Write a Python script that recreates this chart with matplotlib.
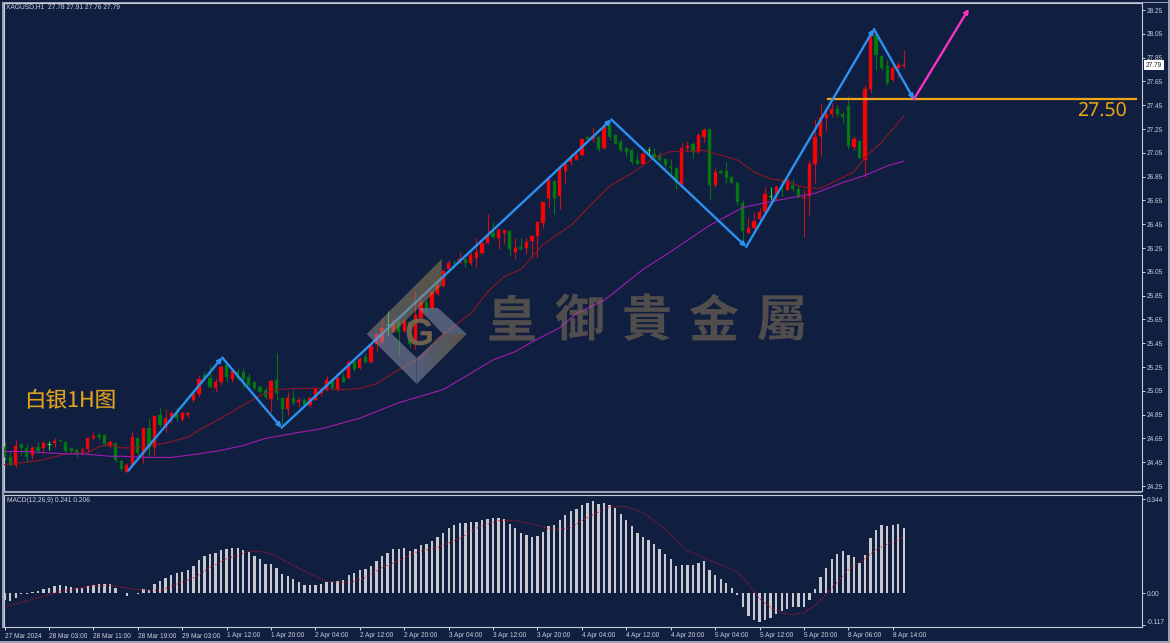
import numpy as np
import matplotlib
matplotlib.use('Agg')
import matplotlib.pyplot as plt
from matplotlib.colors import LinearSegmentedColormap
from matplotlib.patches import Polygon, Rectangle

plt.rcParams['font.family'] = ['Liberation Sans', 'DejaVu Sans']
plt.rcParams['text.hinting'] = 'none'

W, H = 1170, 643
BG = '#101f40'
TXT = '#d2d6de'

opens = [
    24.58, 24.49, 24.43, 24.60, 24.57, 24.51, 24.58, 24.57, 24.60, 24.61,
    24.64, 24.62, 24.57, 24.55, 24.54, 24.56, 24.65, 24.68, 24.68, 24.59,
    24.61, 24.46, 24.37, 24.43, 24.65, 24.53, 24.74, 24.58, 24.85, 24.75,
    24.83, 24.86, 24.81, 24.85, 24.97, 25.02, 25.18, 25.16, 25.07, 25.12,
    25.27, 25.15, 25.21, 25.21, 25.17, 25.12, 25.08, 25.06, 24.98, 25.14,
    24.99, 24.90, 24.99, 24.96, 24.97, 24.93, 24.97, 25.03, 25.06, 25.13,
    25.06, 25.17, 25.16, 25.29, 25.24, 25.33, 25.29, 25.44, 25.46, 25.61,
    25.54, 25.63, 25.55, 25.63, 25.44, 25.66, 25.80, 25.75, 25.86, 25.93,
    26.07, 26.13, 26.12, 26.16, 26.12, 26.17, 26.21, 26.29, 26.38, 26.33,
    26.38, 26.39, 26.22, 26.26, 26.25, 26.31, 26.35, 26.46, 26.67, 26.81,
    26.69, 26.90, 26.97, 26.99, 27.03, 27.18, 27.17, 27.18, 27.09, 27.28,
    27.20, 27.14, 27.09, 27.07, 26.99, 26.96, 27.07, 27.04, 27.03, 27.00,
    26.94, 26.92, 26.79, 27.09, 27.12, 27.06, 27.18, 27.25, 26.78, 26.90,
    26.90, 26.85, 26.80, 26.63, 26.38, 26.42, 26.49, 26.55, 26.69, 26.70,
    26.75, 26.74, 26.78, 26.75, 26.67, 26.69, 26.96, 27.19, 27.34, 27.38,
    27.42, 27.38, 27.44, 27.10, 27.15, 26.99, 27.59, 28.04, 27.86, 27.78,
    27.66, 27.76, 27.78,
]
highs = [
    24.62, 24.54, 24.64, 24.60, 24.60, 24.59, 24.62, 24.63, 24.63, 24.65,
    24.64, 24.63, 24.58, 24.57, 24.58, 24.66, 24.70, 24.70, 24.69, 24.63,
    24.62, 24.47, 24.44, 24.71, 24.66, 24.74, 24.82, 24.84, 24.91, 24.90,
    24.88, 24.91, 24.87, 24.87, 25.03, 25.18, 25.22, 25.27, 25.16, 25.27,
    25.28, 25.24, 25.24, 25.24, 25.20, 25.12, 25.10, 25.08, 25.14, 25.37,
    24.99, 25.04, 25.06, 25.00, 24.99, 25.00, 25.07, 25.06, 25.18, 25.15,
    25.17, 25.20, 25.31, 25.30, 25.33, 25.37, 25.44, 25.54, 25.66, 25.72,
    25.65, 25.65, 25.65, 25.64, 25.89, 25.81, 25.81, 25.89, 25.95, 26.07,
    26.15, 26.14, 26.22, 26.17, 26.22, 26.33, 26.30, 26.54, 26.47, 26.42,
    26.40, 26.40, 26.33, 26.33, 26.33, 26.36, 26.47, 26.64, 26.84, 26.81,
    26.93, 26.97, 27.05, 27.05, 27.17, 27.19, 27.27, 27.19, 27.30, 27.30,
    27.21, 27.17, 27.10, 27.09, 27.04, 27.09, 27.10, 27.09, 27.06, 27.01,
    27.00, 26.93, 27.13, 27.15, 27.14, 27.22, 27.26, 27.25, 26.92, 26.91,
    26.97, 26.86, 26.81, 26.65, 26.50, 26.55, 26.59, 26.76, 26.76, 26.78,
    26.82, 26.84, 26.83, 26.78, 26.74, 26.99, 27.33, 27.46, 27.43, 27.47,
    27.45, 27.39, 27.53, 27.19, 27.15, 27.62, 28.08, 28.07, 27.87, 27.83,
    27.82, 27.81, 27.91,
]
lows = [
    24.47, 24.42, 24.41, 24.51, 24.45, 24.48, 24.53, 24.53, 24.55, 24.58,
    24.62, 24.53, 24.53, 24.49, 24.51, 24.53, 24.64, 24.64, 24.59, 24.57,
    24.45, 24.38, 24.37, 24.42, 24.47, 24.44, 24.49, 24.51, 24.75, 24.70,
    24.78, 24.80, 24.80, 24.83, 24.96, 25.00, 25.14, 25.07, 25.04, 25.10,
    25.12, 25.12, 25.14, 25.07, 25.08, 25.06, 25.03, 24.98, 24.87, 24.97,
    24.76, 24.85, 24.93, 24.91, 24.92, 24.91, 24.97, 25.01, 25.05, 25.06,
    25.05, 25.12, 25.15, 25.22, 25.23, 25.28, 25.28, 25.38, 25.44, 25.52,
    25.54, 25.35, 25.54, 25.42, 25.40, 25.63, 25.71, 25.74, 25.85, 25.92,
    26.05, 26.10, 26.12, 26.09, 26.11, 26.09, 26.20, 26.28, 26.33, 26.24,
    26.28, 26.18, 26.16, 26.23, 26.20, 26.17, 26.17, 26.42, 26.59, 26.54,
    26.58, 26.80, 26.95, 26.99, 27.02, 27.16, 27.14, 27.06, 27.08, 27.16,
    27.12, 27.06, 27.02, 26.96, 26.96, 26.95, 27.03, 27.01, 26.97, 26.91,
    26.85, 26.75, 26.79, 27.06, 27.01, 27.05, 27.14, 26.66, 26.76, 26.87,
    26.80, 26.80, 26.61, 26.29, 26.38, 26.41, 26.47, 26.54, 26.65, 26.65,
    26.69, 26.74, 26.73, 26.67, 26.34, 26.53, 26.80, 27.02, 27.23, 27.35,
    27.35, 27.30, 27.08, 27.07, 27.01, 26.85, 27.55, 27.75, 27.75, 27.62,
    27.65, 27.69, 27.76,
]
closes = [
    24.49, 24.43, 24.59, 24.57, 24.49, 24.57, 24.54, 24.61, 24.60, 24.63,
    24.63, 24.54, 24.54, 24.53, 24.55, 24.65, 24.67, 24.66, 24.60, 24.62,
    24.47, 24.39, 24.43, 24.66, 24.53, 24.74, 24.58, 24.84, 24.76, 24.82,
    24.86, 24.82, 24.86, 24.86, 25.02, 25.15, 25.16, 25.08, 25.12, 25.25,
    25.17, 25.22, 25.16, 25.15, 25.10, 25.07, 25.04, 25.00, 25.13, 25.03,
    24.90, 24.99, 24.95, 24.97, 24.93, 24.99, 25.07, 25.05, 25.14, 25.07,
    25.16, 25.12, 25.29, 25.23, 25.32, 25.29, 25.43, 25.53, 25.58, 25.61,
    25.64, 25.54, 25.64, 25.44, 25.69, 25.80, 25.75, 25.88, 25.94, 26.06,
    26.12, 26.12, 26.16, 26.12, 26.19, 26.22, 26.29, 26.36, 26.34, 26.40,
    26.40, 26.24, 26.25, 26.24, 26.30, 26.35, 26.47, 26.64, 26.82, 26.67,
    26.92, 26.96, 27.01, 27.03, 27.17, 27.17, 27.19, 27.08, 27.27, 27.18,
    27.12, 27.07, 27.06, 26.97, 26.96, 27.04, 27.07, 27.01, 26.99, 26.95,
    26.92, 26.80, 27.09, 27.11, 27.06, 27.20, 27.24, 26.78, 26.89, 26.88,
    26.84, 26.80, 26.64, 26.39, 26.42, 26.48, 26.55, 26.70, 26.69, 26.76,
    26.74, 26.82, 26.75, 26.68, 26.68, 26.96, 27.18, 27.35, 27.38, 27.42,
    27.38, 27.35, 27.11, 27.17, 27.01, 27.59, 28.04, 27.87, 27.76, 27.64,
    27.76, 27.79, 27.79,
]

ma_fast_bars = [0, 4, 7, 11, 15, 17, 19, 21, 24, 25, 29, 33, 35, 39, 43, 46, 49, 53, 57, 61, 64,
                67, 70, 75, 78, 84, 87, 90, 93, 97, 102, 106, 109, 113, 117, 120, 126, 129,
                132, 135, 138, 140, 144, 147, 150, 153, 155, 158, 162]
ma_fast = [24.43, 24.45, 24.47, 24.52, 24.53, 24.58, 24.60, 24.57, 24.57, 24.58, 24.61, 24.66, 24.72,
           24.82, 24.93, 25.01, 25.06, 25.07, 25.07, 25.06, 25.07, 25.11, 25.20, 25.33, 25.49, 25.70,
           25.88, 26.01, 26.07, 26.28, 26.44, 26.63, 26.77, 26.88, 27.01, 27.06, 27.07, 27.03,
           26.99, 26.89, 26.83, 26.82, 26.76, 26.75, 26.82, 26.89, 27.01, 27.14, 27.36]

ma_slow_bars = [0, 4, 7, 11, 14, 19, 21, 26, 30, 35, 39, 43, 47, 53, 57, 64, 71, 79, 83, 88, 92, 95,
                100, 103, 108, 115, 120, 127, 133, 138, 146, 151, 155, 159, 162]
ma_slow = [24.54, 24.54, 24.53, 24.52, 24.52, 24.50, 24.50, 24.49, 24.49, 24.52, 24.55, 24.59, 24.65,
           24.70, 24.73, 24.82, 24.95, 25.06, 25.17, 25.31, 25.38, 25.46, 25.58, 25.70, 25.81, 26.07,
           26.22, 26.44, 26.59, 26.64, 26.71, 26.80, 26.86, 26.94, 26.98]

macd_hist = [
    -0.026, -0.028, -0.016, -0.003, -0.002, 0.005, 0.007, 0.015, 0.021, 0.026,
    0.030, 0.028, 0.024, 0.020, 0.018, 0.026, 0.030, 0.035, 0.033, 0.033,
    0.020, 0.002, -0.010, 0.002, -0.001, 0.015, 0.013, 0.033, 0.044, 0.057,
    0.068, 0.074, 0.079, 0.084, 0.099, 0.123, 0.135, 0.143, 0.149, 0.160,
    0.163, 0.167, 0.167, 0.160, 0.150, 0.137, 0.127, 0.106, 0.106, 0.094,
    0.072, 0.063, 0.051, 0.043, 0.032, 0.029, 0.030, 0.034, 0.041, 0.041,
    0.046, 0.050, 0.066, 0.073, 0.084, 0.088, 0.100, 0.120, 0.137, 0.149,
    0.162, 0.163, 0.166, 0.154, 0.162, 0.176, 0.179, 0.191, 0.206, 0.222,
    0.239, 0.250, 0.257, 0.259, 0.260, 0.262, 0.267, 0.272, 0.276, 0.276,
    0.272, 0.255, 0.240, 0.221, 0.212, 0.207, 0.210, 0.223, 0.248, 0.251,
    0.270, 0.288, 0.301, 0.310, 0.323, 0.330, 0.337, 0.326, 0.330, 0.323,
    0.311, 0.291, 0.270, 0.245, 0.222, 0.206, 0.194, 0.179, 0.162, 0.143,
    0.126, 0.100, 0.102, 0.104, 0.102, 0.110, 0.118, 0.085, 0.067, 0.052,
    0.037, 0.018, -0.005, -0.049, -0.082, -0.098, -0.106, -0.096, -0.090, -0.077,
    -0.065, -0.056, -0.049, -0.049, -0.049, -0.026, 0.015, 0.059, 0.094, 0.124,
    0.145, 0.155, 0.141, 0.132, 0.111, 0.141, 0.204, 0.233, 0.249, 0.246,
    0.249, 0.255, 0.241,
]
signal_bars = [0, 3, 6, 10, 13, 16, 19, 21, 24, 28, 31, 34, 37, 40, 44, 47, 49, 52, 55, 58, 62, 65,
               68, 71, 74, 78, 82, 85, 89, 92, 96, 99, 102, 105, 109, 112, 115, 119, 123, 127,
               132, 134, 136, 138, 140, 142, 144, 146, 148, 150, 152, 155, 157, 160, 162]
signal = [-0.049, -0.034, -0.016, 0.006, 0.017, 0.027, 0.029, 0.023, 0.013, 0.010, 0.033, 0.057,
          0.094, 0.127, 0.154, 0.151, 0.135, 0.102, 0.072, 0.043, 0.039, 0.057, 0.094, 0.120, 0.150,
          0.168, 0.201, 0.239, 0.266, 0.268, 0.248, 0.232, 0.241, 0.278, 0.318, 0.317, 0.296,
          0.235, 0.156, 0.122, 0.079, 0.034, -0.020, -0.052, -0.072, -0.078, -0.071, -0.044,
          -0.005, 0.041, 0.087, 0.127, 0.160, 0.190, 0.206]

zigzag_bars = [22.3, 39.2, 49.9, 109.3, 133.6, 156.6, 163.8]
zigzag_prices = [24.38, 25.33, 24.74, 27.33, 26.26, 28.09, 27.50]
target_bar, target_price = 173.7, 28.26
support_level = 27.50
support_start, support_end = 148.3, 203.9

price_ticks = [28.25, 28.05, 27.85, 27.65, 27.45, 27.25, 27.05, 26.85, 26.65, 26.45, 26.25,
               26.05, 25.85, 25.65, 25.45, 25.25, 25.05, 24.85, 24.65, 24.45, 24.25]
time_labels = ['27 Mar 2024', '28 Mar 03:00', '28 Mar 11:00', '28 Mar 19:00', '29 Mar 03:00',
               '1 Apr 12:00', '1 Apr 20:00', '2 Apr 04:00', '2 Apr 12:00', '2 Apr 20:00',
               '3 Apr 04:00', '3 Apr 12:00', '3 Apr 20:00', '4 Apr 04:00', '4 Apr 12:00',
               '4 Apr 20:00', '5 Apr 04:00', '5 Apr 12:00', '5 Apr 20:00', '8 Apr 06:00',
               '8 Apr 14:00']
watermark_chars = ['皇', '御', '貴', '金', '屬']


def px_rect(left, top, right, bottom):
    """Axes rectangle from pixel edges, y counted from the top."""
    return [left / W, 1 - bottom / H, (right - left) / W, (bottom - top) / H]


def style_panel(ax):
    ax.set_facecolor(BG)
    ax.yaxis.tick_right()
    ax.tick_params(colors=TXT, labelsize=4.7, length=2.2, width=0.7, pad=1.5)
    for side in ['top', 'bottom', 'left', 'right']:
        ax.spines[side].set_color('#c8ccd6')
        ax.spines[side].set_linewidth(0.8)


fig = plt.figure(figsize=(W / 100, H / 100), dpi=100, facecolor=BG)
ax = fig.add_axes(px_rect(4, 3, 1141.6, 491))
sub = fig.add_axes(px_rect(4, 494.5, 1141.6, 627))
style_panel(ax)
style_panel(sub)

bars = np.arange(len(closes))
o, h, l, c = map(np.array, (opens, highs, lows, closes))
up = c > o
down = c < o
flat = c == o

# candles
ax.vlines(bars[up], l[up], h[up], color='#c8101c', lw=0.8, zorder=2)
ax.vlines(bars[down], l[down], h[down], color='#0a7018', lw=0.8, zorder=2)
ax.vlines(bars[flat], l[flat], h[flat], color='#24d83c', lw=0.8, zorder=2)
ax.bar(bars[up], (c - o)[up], bottom=o[up], width=0.58, color='#ff0000', lw=0.3, ec='#c8101c', zorder=3)
ax.bar(bars[down], (c - o)[down], bottom=o[down], width=0.58, color='#007c10', lw=0.3, ec='#0a6018', zorder=3)
ax.hlines(c[flat], bars[flat] - 0.3, bars[flat] + 0.3, color='#24d83c', lw=0.8, zorder=3)

ax.plot(ma_fast_bars, ma_fast, color='#8e1626', lw=0.8, zorder=4)
ax.plot(ma_slow_bars, ma_slow, color='#a01cb0', lw=0.8, zorder=4)

# hand-drawn wave lines
for i in range(len(zigzag_bars) - 1):
    ax.annotate('', xy=(zigzag_bars[i + 1], zigzag_prices[i + 1]),
                xytext=(zigzag_bars[i], zigzag_prices[i]),
                arrowprops=dict(arrowstyle='-|>', color='#2b92f2', lw=1.7, mutation_scale=6,
                                shrinkA=0, shrinkB=0), zorder=6)
ax.annotate('', xy=(target_bar, target_price), xytext=(zigzag_bars[-1], zigzag_prices[-1]),
            arrowprops=dict(arrowstyle='-|>', color='#f533c4', lw=1.7, mutation_scale=6,
                            shrinkA=0, shrinkB=0), zorder=6)
ax.plot([support_start, support_end], [support_level, support_level], color='#eea416', lw=1.6, zorder=5)

ax.set_xlim(-0.11, 204.83)
ax.set_ylim(24.208, 28.309)
ax.set_yticks(price_ticks)
ax.set_yticklabels([f'{p:.2f}' for p in price_ticks])
ax.set_xticks([])

ax.text(205.6, closes[-1], f'{closes[-1]:.2f}', fontsize=4.7, color='#10182c', va='center',
        ha='left', clip_on=False, zorder=8,
        bbox=dict(boxstyle='square,pad=0.25', fc='white', ec='none'))

# MACD panel
hist = np.array(macd_hist)
sub.bar(bars, hist, width=0.42, color='#c9c9cd', lw=0, zorder=2)
sub.plot(signal_bars, signal, color='#d4142c', lw=0.8, ls=(0, (1, 1.6)), zorder=3)
sub.set_xlim(ax.get_xlim())
sub.set_ylim(-0.1234, 0.362)
sub.set_yticks([0.344, 0.0, -0.117])
sub.set_yticklabels(['0.344', '0.00', '-0.117'])
sub.get_yticklabels()[2].set_va('bottom')
sub.set_xticks(np.arange(len(time_labels)) * 8)
sub.set_xticklabels(time_labels, ha='left', fontsize=4.7)
sub.tick_params(axis='x', length=2.2, pad=2)

fig.text(6.5 / W, 1 - 7.5 / H, 'XAGUSD,H1  27.78 27.91 27.76 27.79', fontsize=4.8, color=TXT, va='center')
fig.text(7 / W, 1 - 500 / H, 'MACD(12,26,9) 0.241 0.206', fontsize=4.75, color=TXT, va='center')

# overlay in pixel coordinates for the logo, brand name and notes
over = fig.add_axes([0, 0, 1, 1], facecolor='none', zorder=10)
over.set_xlim(0, W)
over.set_ylim(H, 0)
over.axis('off')


def band(pts, left_rgb, right_rgb, alpha=0.52):
    cmap = LinearSegmentedColormap.from_list('band', [left_rgb, right_rgb])
    xs = [p[0] for p in pts]
    ys = [p[1] for p in pts]
    im = over.imshow(np.linspace(0, 1, 64).reshape(1, -1), cmap=cmap, aspect='auto', alpha=alpha,
                     extent=(min(xs), max(xs), max(ys), min(ys)), zorder=1)
    im.set_clip_path(Polygon(pts, transform=over.transData))


grey = '#9096ac'
gold = '#a08650'
band([(366.7, 334), (441.7, 259), (441.7, 285), (392, 334)], '#8e8c84', gold)
band([(366.7, 334), (416.7, 384), (416.7, 358), (392, 334)], grey, grey)
band([(418, 308), (438, 308), (466.7, 334), (443, 334)], grey, grey)
band([(416.7, 358), (443, 334), (466.7, 334), (416.7, 384)], grey, gold)
over.set_xlim(0, W)
over.set_ylim(H, 0)
over.text(419, 335, 'G', fontsize=27, color='#75654e', alpha=0.95, ha='center', va='center',
          fontweight='bold', zorder=2)

for k, ch in enumerate(watermark_chars):
    over.text(512 + 67.5 * k, 322, ch, fontsize=36, color='#9c815c', alpha=0.47, ha='center', va='center',
              family=['Noto Sans CJK TC', 'DejaVu Sans'], fontweight='bold', zorder=2)

over.text(70, 401, '白银1H图', fontsize=15.5, color='#e3a21c', ha='center', va='center',
          family=['Noto Sans CJK SC', 'DejaVu Sans'], zorder=3)
over.text(1101.5, 111, '27.50', fontsize=14, color='#eea416', ha='center', va='center',
          family=['Noto Sans', 'DejaVu Sans'], zorder=3)

# window frame around the chart
for rect in [(2, 2, 1.6, 625.5), (2, 2, 1166, 1.2), (2, 491.2, 1140, 1.6), (0, 641, W, 2), (W - 2, 0, 2, H)]:
    over.add_patch(Rectangle((rect[0], rect[1]), rect[2], rect[3], fc='#9aa2b4', ec='none', zorder=5))

fig.savefig('out.png', dpi=100, facecolor=BG)
